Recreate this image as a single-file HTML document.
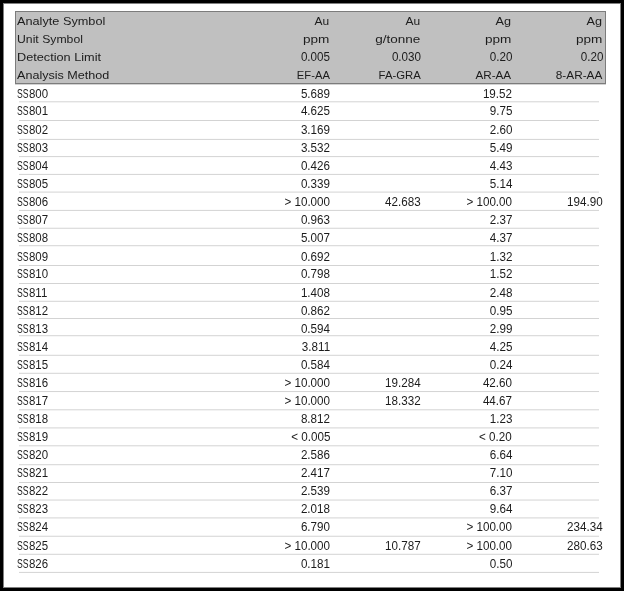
<!DOCTYPE html>
<html><head><meta charset="utf-8"><title>Assay results</title><style>
html,body{margin:0;padding:0;background:#000;}
body{width:624px;height:591px;position:relative;overflow:hidden;font-family:"Liberation Sans",Arial,sans-serif;font-size:11.5px;color:#1c1c1c;}
.wrap{position:absolute;left:0;top:0;width:624px;height:591px;filter:grayscale(1) blur(0.3px);}
.pg{position:absolute;left:3px;top:3px;width:618px;height:585px;background:#fff;box-shadow:inset 0 0 0 1px #808080;}
.hb{position:absolute;left:15px;top:11px;width:589px;height:71px;background:#c0c0c0;border:1px solid #7c7c7c;}
.hu{position:absolute;left:15px;top:84px;width:591px;height:1px;background:#d2d2d2;}
.t{position:absolute;white-space:nowrap;line-height:18px;height:18px;}
.d{font-size:12.0px;}
.l{transform-origin:0 50%;}
.r{text-align:right;transform-origin:100% 50%;}
.ln{position:absolute;left:19px;width:580px;height:2px;}
i{font-style:normal;display:inline-block;}
.s{width:11.8px;transform:scaleX(0.72);transform-origin:0 50%;}
.n{transform:scaleX(0.955);transform-origin:0 50%;}
</style></head><body>
<div class="wrap">
<div class="pg"></div>
<div class="hb"></div>
<div class="hu"></div>

<div class="t l" style="left:17.2px;top:12px;transform:scaleX(1.1050)">Analyte Symbol</div>
<div class="t r" style="right:294.50px;top:12px;transform:scaleX(1.040)">Au</div>
<div class="t r" style="right:203.70px;top:12px;transform:scaleX(1.040)">Au</div>
<div class="t r" style="right:112.80px;top:12px;transform:scaleX(1.100)">Ag</div>
<div class="t r" style="right:21.80px;top:12px;transform:scaleX(1.100)">Ag</div>
<div class="t l" style="left:17.2px;top:30px;transform:scaleX(1.0629)">Unit Symbol</div>
<div class="t r" style="right:294.50px;top:30px;transform:scaleX(1.180)">ppm</div>
<div class="t r" style="right:203.70px;top:30px;transform:scaleX(1.176)">g/tonne</div>
<div class="t r" style="right:112.80px;top:30px;transform:scaleX(1.180)">ppm</div>
<div class="t r" style="right:21.80px;top:30px;transform:scaleX(1.180)">ppm</div>
<div class="t l" style="left:17.2px;top:48px;transform:scaleX(1.1044)">Detection Limit</div>
<div class="t r d" style="right:293.70px;top:48px;transform:scaleX(0.970)">0.005</div>
<div class="t r d" style="right:202.90px;top:48px;transform:scaleX(0.970)">0.030</div>
<div class="t r d" style="right:112.00px;top:48px;transform:scaleX(0.970)">0.20</div>
<div class="t r d" style="right:21.00px;top:48px;transform:scaleX(0.970)">0.20</div>
<div class="t l" style="left:17.2px;top:66px;transform:scaleX(1.0939)">Analysis Method</div>
<div class="t r" style="right:294.50px;top:66px;transform:scaleX(0.975)">EF-AA</div>
<div class="t r" style="right:203.70px;top:66px;transform:scaleX(0.986)">FA-GRA</div>
<div class="t r" style="right:112.80px;top:66px;transform:scaleX(1.017)">AR-AA</div>
<div class="t r" style="right:21.80px;top:66px;transform:scaleX(1.027)">8-AR-AA</div>
<div class="t d" style="left:16.9px;top:85px"><i class="s">SS</i><i class="n">800</i></div>
<div class="t r d" style="right:293.70px;top:85px;transform:scaleX(0.970)">5.689</div>
<div class="t r d" style="right:112.00px;top:85px;transform:scaleX(0.970)">19.52</div>
<div class="ln" style="top:101px;background:linear-gradient(rgb(224,224,224) 0px,rgb(224,224,224) 1px,rgb(242,242,242) 1px,rgb(242,242,242) 2px)"></div>
<div class="t d" style="left:16.9px;top:102px"><i class="s">SS</i><i class="n">801</i></div>
<div class="t r d" style="right:293.70px;top:102px;transform:scaleX(0.970)">4.625</div>
<div class="t r d" style="right:112.00px;top:102px;transform:scaleX(0.970)">9.75</div>
<div class="ln" style="top:120px;background:linear-gradient(rgb(211,211,211) 0px,rgb(211,211,211) 1px,rgb(255,255,255) 1px,rgb(255,255,255) 2px)"></div>
<div class="t d" style="left:16.9px;top:121px"><i class="s">SS</i><i class="n">802</i></div>
<div class="t r d" style="right:293.70px;top:121px;transform:scaleX(0.970)">3.169</div>
<div class="t r d" style="right:112.00px;top:121px;transform:scaleX(0.970)">2.60</div>
<div class="ln" style="top:138px;background:linear-gradient(rgb(251,251,251) 0px,rgb(251,251,251) 1px,rgb(215,215,215) 1px,rgb(215,215,215) 2px)"></div>
<div class="t d" style="left:16.9px;top:139px"><i class="s">SS</i><i class="n">803</i></div>
<div class="t r d" style="right:293.70px;top:139px;transform:scaleX(0.970)">3.532</div>
<div class="t r d" style="right:112.00px;top:139px;transform:scaleX(0.970)">5.49</div>
<div class="ln" style="top:156px;background:linear-gradient(rgb(215,215,215) 0px,rgb(215,215,215) 1px,rgb(251,251,251) 1px,rgb(251,251,251) 2px)"></div>
<div class="t d" style="left:16.9px;top:157px"><i class="s">SS</i><i class="n">804</i></div>
<div class="t r d" style="right:293.70px;top:157px;transform:scaleX(0.970)">0.426</div>
<div class="t r d" style="right:112.00px;top:157px;transform:scaleX(0.970)">4.43</div>
<div class="ln" style="top:173px;background:linear-gradient(rgb(251,251,251) 0px,rgb(251,251,251) 1px,rgb(215,215,215) 1px,rgb(215,215,215) 2px)"></div>
<div class="t d" style="left:16.9px;top:175px"><i class="s">SS</i><i class="n">805</i></div>
<div class="t r d" style="right:293.70px;top:175px;transform:scaleX(0.970)">0.339</div>
<div class="t r d" style="right:112.00px;top:175px;transform:scaleX(0.970)">5.14</div>
<div class="ln" style="top:191px;background:linear-gradient(rgb(237,237,237) 0px,rgb(237,237,237) 1px,rgb(229,229,229) 1px,rgb(229,229,229) 2px)"></div>
<div class="t d" style="left:16.9px;top:193px"><i class="s">SS</i><i class="n">806</i></div>
<div class="t r d" style="right:293.70px;top:193px;transform:scaleX(0.970)">&gt; 10.000</div>
<div class="t r d" style="right:202.90px;top:193px;transform:scaleX(0.970)">42.683</div>
<div class="t r d" style="right:112.00px;top:193px;transform:scaleX(0.970)">&gt; 100.00</div>
<div class="t r d" style="right:21.00px;top:193px;transform:scaleX(0.970)">194.90</div>
<div class="ln" style="top:209px;background:linear-gradient(rgb(251,251,251) 0px,rgb(251,251,251) 1px,rgb(215,215,215) 1px,rgb(215,215,215) 2px)"></div>
<div class="t d" style="left:16.9px;top:211px"><i class="s">SS</i><i class="n">807</i></div>
<div class="t r d" style="right:293.70px;top:211px;transform:scaleX(0.970)">0.963</div>
<div class="t r d" style="right:112.00px;top:211px;transform:scaleX(0.970)">2.37</div>
<div class="ln" style="top:227px;background:linear-gradient(rgb(244,244,244) 0px,rgb(244,244,244) 1px,rgb(222,222,222) 1px,rgb(222,222,222) 2px)"></div>
<div class="t d" style="left:16.9px;top:229px"><i class="s">SS</i><i class="n">808</i></div>
<div class="t r d" style="right:293.70px;top:229px;transform:scaleX(0.970)">5.007</div>
<div class="t r d" style="right:112.00px;top:229px;transform:scaleX(0.970)">4.37</div>
<div class="ln" style="top:245px;background:linear-gradient(rgb(220,220,220) 0px,rgb(220,220,220) 1px,rgb(246,246,246) 1px,rgb(246,246,246) 2px)"></div>
<div class="t d" style="left:16.9px;top:248px"><i class="s">SS</i><i class="n">809</i></div>
<div class="t r d" style="right:293.70px;top:248px;transform:scaleX(0.970)">0.692</div>
<div class="t r d" style="right:112.00px;top:248px;transform:scaleX(0.970)">1.32</div>
<div class="ln" style="top:265px;background:linear-gradient(rgb(211,211,211) 0px,rgb(211,211,211) 1px,rgb(255,255,255) 1px,rgb(255,255,255) 2px)"></div>
<div class="t d" style="left:16.9px;top:265px"><i class="s">SS</i><i class="n">810</i></div>
<div class="t r d" style="right:293.70px;top:265px;transform:scaleX(0.970)">0.798</div>
<div class="t r d" style="right:112.00px;top:265px;transform:scaleX(0.970)">1.52</div>
<div class="ln" style="top:283px;background:linear-gradient(rgb(211,211,211) 0px,rgb(211,211,211) 1px,rgb(255,255,255) 1px,rgb(255,255,255) 2px)"></div>
<div class="t d" style="left:16.9px;top:284px"><i class="s">SS</i><i class="n">811</i></div>
<div class="t r d" style="right:293.70px;top:284px;transform:scaleX(0.970)">1.408</div>
<div class="t r d" style="right:112.00px;top:284px;transform:scaleX(0.970)">2.48</div>
<div class="ln" style="top:300px;background:linear-gradient(rgb(246,246,246) 0px,rgb(246,246,246) 1px,rgb(220,220,220) 1px,rgb(220,220,220) 2px)"></div>
<div class="t d" style="left:16.9px;top:302px"><i class="s">SS</i><i class="n">812</i></div>
<div class="t r d" style="right:293.70px;top:302px;transform:scaleX(0.970)">0.862</div>
<div class="t r d" style="right:112.00px;top:302px;transform:scaleX(0.970)">0.95</div>
<div class="ln" style="top:318px;background:linear-gradient(rgb(211,211,211) 0px,rgb(211,211,211) 1px,rgb(255,255,255) 1px,rgb(255,255,255) 2px)"></div>
<div class="t d" style="left:16.9px;top:320px"><i class="s">SS</i><i class="n">813</i></div>
<div class="t r d" style="right:293.70px;top:320px;transform:scaleX(0.970)">0.594</div>
<div class="t r d" style="right:112.00px;top:320px;transform:scaleX(0.970)">2.99</div>
<div class="ln" style="top:335px;background:linear-gradient(rgb(220,220,220) 0px,rgb(220,220,220) 1px,rgb(246,246,246) 1px,rgb(246,246,246) 2px)"></div>
<div class="t d" style="left:16.9px;top:338px"><i class="s">SS</i><i class="n">814</i></div>
<div class="t r d" style="right:293.70px;top:338px;transform:scaleX(0.970)">3.811</div>
<div class="t r d" style="right:112.00px;top:338px;transform:scaleX(0.970)">4.25</div>
<div class="ln" style="top:354px;background:linear-gradient(rgb(246,246,246) 0px,rgb(246,246,246) 1px,rgb(220,220,220) 1px,rgb(220,220,220) 2px)"></div>
<div class="t d" style="left:16.9px;top:356px"><i class="s">SS</i><i class="n">815</i></div>
<div class="t r d" style="right:293.70px;top:356px;transform:scaleX(0.970)">0.584</div>
<div class="t r d" style="right:112.00px;top:356px;transform:scaleX(0.970)">0.24</div>
<div class="ln" style="top:372px;background:linear-gradient(rgb(246,246,246) 0px,rgb(246,246,246) 1px,rgb(220,220,220) 1px,rgb(220,220,220) 2px)"></div>
<div class="t d" style="left:16.9px;top:374px"><i class="s">SS</i><i class="n">816</i></div>
<div class="t r d" style="right:293.70px;top:374px;transform:scaleX(0.970)">&gt; 10.000</div>
<div class="t r d" style="right:202.90px;top:374px;transform:scaleX(0.970)">19.284</div>
<div class="t r d" style="right:112.00px;top:374px;transform:scaleX(0.970)">42.60</div>
<div class="ln" style="top:391px;background:linear-gradient(rgb(213,213,213) 0px,rgb(213,213,213) 1px,rgb(253,253,253) 1px,rgb(253,253,253) 2px)"></div>
<div class="t d" style="left:16.9px;top:392px"><i class="s">SS</i><i class="n">817</i></div>
<div class="t r d" style="right:293.70px;top:392px;transform:scaleX(0.970)">&gt; 10.000</div>
<div class="t r d" style="right:202.90px;top:392px;transform:scaleX(0.970)">18.332</div>
<div class="t r d" style="right:112.00px;top:392px;transform:scaleX(0.970)">44.67</div>
<div class="ln" style="top:409px;background:linear-gradient(rgb(224,224,224) 0px,rgb(224,224,224) 1px,rgb(242,242,242) 1px,rgb(242,242,242) 2px)"></div>
<div class="t d" style="left:16.9px;top:410px"><i class="s">SS</i><i class="n">818</i></div>
<div class="t r d" style="right:293.70px;top:410px;transform:scaleX(0.970)">8.812</div>
<div class="t r d" style="right:112.00px;top:410px;transform:scaleX(0.970)">1.23</div>
<div class="ln" style="top:427px;background:linear-gradient(rgb(229,229,229) 0px,rgb(229,229,229) 1px,rgb(237,237,237) 1px,rgb(237,237,237) 2px)"></div>
<div class="t d" style="left:16.9px;top:428px"><i class="s">SS</i><i class="n">819</i></div>
<div class="t r d" style="right:293.70px;top:428px;transform:scaleX(0.970)">&lt; 0.005</div>
<div class="t r d" style="right:112.00px;top:428px;transform:scaleX(0.970)">&lt; 0.20</div>
<div class="ln" style="top:445px;background:linear-gradient(rgb(224,224,224) 0px,rgb(224,224,224) 1px,rgb(242,242,242) 1px,rgb(242,242,242) 2px)"></div>
<div class="t d" style="left:16.9px;top:446px"><i class="s">SS</i><i class="n">820</i></div>
<div class="t r d" style="right:293.70px;top:446px;transform:scaleX(0.970)">2.586</div>
<div class="t r d" style="right:112.00px;top:446px;transform:scaleX(0.970)">6.64</div>
<div class="ln" style="top:464px;background:linear-gradient(rgb(220,220,220) 0px,rgb(220,220,220) 1px,rgb(246,246,246) 1px,rgb(246,246,246) 2px)"></div>
<div class="t d" style="left:16.9px;top:464px"><i class="s">SS</i><i class="n">821</i></div>
<div class="t r d" style="right:293.70px;top:464px;transform:scaleX(0.970)">2.417</div>
<div class="t r d" style="right:112.00px;top:464px;transform:scaleX(0.970)">7.10</div>
<div class="ln" style="top:482px;background:linear-gradient(rgb(211,211,211) 0px,rgb(211,211,211) 1px,rgb(255,255,255) 1px,rgb(255,255,255) 2px)"></div>
<div class="t d" style="left:16.9px;top:482px"><i class="s">SS</i><i class="n">822</i></div>
<div class="t r d" style="right:293.70px;top:482px;transform:scaleX(0.970)">2.539</div>
<div class="t r d" style="right:112.00px;top:482px;transform:scaleX(0.970)">6.37</div>
<div class="ln" style="top:499px;background:linear-gradient(rgb(235,235,235) 0px,rgb(235,235,235) 1px,rgb(231,231,231) 1px,rgb(231,231,231) 2px)"></div>
<div class="t d" style="left:16.9px;top:500px"><i class="s">SS</i><i class="n">823</i></div>
<div class="t r d" style="right:293.70px;top:500px;transform:scaleX(0.970)">2.018</div>
<div class="t r d" style="right:112.00px;top:500px;transform:scaleX(0.970)">9.64</div>
<div class="ln" style="top:517px;background:linear-gradient(rgb(229,229,229) 0px,rgb(229,229,229) 1px,rgb(237,237,237) 1px,rgb(237,237,237) 2px)"></div>
<div class="t d" style="left:16.9px;top:518px"><i class="s">SS</i><i class="n">824</i></div>
<div class="t r d" style="right:293.70px;top:518px;transform:scaleX(0.970)">6.790</div>
<div class="t r d" style="right:112.00px;top:518px;transform:scaleX(0.970)">&gt; 100.00</div>
<div class="t r d" style="right:21.00px;top:518px;transform:scaleX(0.970)">234.34</div>
<div class="ln" style="top:535px;background:linear-gradient(rgb(244,244,244) 0px,rgb(244,244,244) 1px,rgb(222,222,222) 1px,rgb(222,222,222) 2px)"></div>
<div class="t d" style="left:16.9px;top:537px"><i class="s">SS</i><i class="n">825</i></div>
<div class="t r d" style="right:293.70px;top:537px;transform:scaleX(0.970)">&gt; 10.000</div>
<div class="t r d" style="right:202.90px;top:537px;transform:scaleX(0.970)">10.787</div>
<div class="t r d" style="right:112.00px;top:537px;transform:scaleX(0.970)">&gt; 100.00</div>
<div class="t r d" style="right:21.00px;top:537px;transform:scaleX(0.970)">280.63</div>
<div class="ln" style="top:553px;background:linear-gradient(rgb(246,246,246) 0px,rgb(246,246,246) 1px,rgb(220,220,220) 1px,rgb(220,220,220) 2px)"></div>
<div class="t d" style="left:16.9px;top:555px"><i class="s">SS</i><i class="n">826</i></div>
<div class="t r d" style="right:293.70px;top:555px;transform:scaleX(0.970)">0.181</div>
<div class="t r d" style="right:112.00px;top:555px;transform:scaleX(0.970)">0.50</div>
<div class="ln" style="top:571px;background:linear-gradient(rgb(251,251,251) 0px,rgb(251,251,251) 1px,rgb(215,215,215) 1px,rgb(215,215,215) 2px)"></div>
</div>
</body></html>
